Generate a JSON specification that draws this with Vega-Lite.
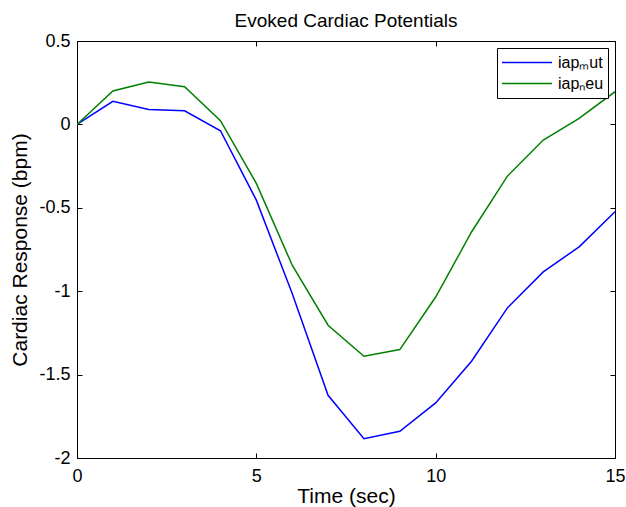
{
  "$schema": "https://vega.github.io/schema/vega-lite/v6.json",
  "width": 538,
  "height": 417,
  "autosize": {"type": "none"},
  "padding": {"left": 77, "top": 41, "right": 11, "bottom": 49},
  "background": "white",
  "config": {
    "font": "Liberation Sans",
    "view": {"stroke": "black", "strokeWidth": 1},
    "axis": {"grid": false, "domain": false, "labelFlush": false, "labelOverlap": false, "tickColor": "black", "labelColor": "black", "titleColor": "black", "labelFont": "Liberation Sans", "titleFont": "Liberation Sans", "titleFontWeight": "normal"}
  },
  "title": {"text": "Evoked Cardiac Potentials", "fontSize": 19, "fontWeight": "normal", "font": "Liberation Sans", "color": "black", "offset": 1, "anchor": "middle"},
  "data": {"values": [
    {"t": 0, "v": 0, "s": "iapₘut"},
    {"t": 1, "v": 0.138, "s": "iapₘut"},
    {"t": 2, "v": 0.09, "s": "iapₘut"},
    {"t": 3, "v": 0.082, "s": "iapₘut"},
    {"t": 4, "v": -0.038, "s": "iapₘut"},
    {"t": 5, "v": -0.454, "s": "iapₘut"},
    {"t": 6, "v": -1.014, "s": "iapₘut"},
    {"t": 7, "v": -1.624, "s": "iapₘut"},
    {"t": 8, "v": -1.884, "s": "iapₘut"},
    {"t": 9, "v": -1.84, "s": "iapₘut"},
    {"t": 10, "v": -1.67, "s": "iapₘut"},
    {"t": 11, "v": -1.42, "s": "iapₘut"},
    {"t": 12, "v": -1.10, "s": "iapₘut"},
    {"t": 13, "v": -0.884, "s": "iapₘut"},
    {"t": 14, "v": -0.734, "s": "iapₘut"},
    {"t": 15, "v": -0.524, "s": "iapₘut"},
    {"t": 0, "v": 0, "s": "iapₙeu"},
    {"t": 1, "v": 0.20, "s": "iapₙeu"},
    {"t": 2, "v": 0.254, "s": "iapₙeu"},
    {"t": 3, "v": 0.226, "s": "iapₙeu"},
    {"t": 4, "v": 0.022, "s": "iapₙeu"},
    {"t": 5, "v": -0.354, "s": "iapₙeu"},
    {"t": 6, "v": -0.844, "s": "iapₙeu"},
    {"t": 7, "v": -1.204, "s": "iapₙeu"},
    {"t": 8, "v": -1.39, "s": "iapₙeu"},
    {"t": 9, "v": -1.35, "s": "iapₙeu"},
    {"t": 10, "v": -1.035, "s": "iapₙeu"},
    {"t": 11, "v": -0.645, "s": "iapₙeu"},
    {"t": 12, "v": -0.31, "s": "iapₙeu"},
    {"t": 13, "v": -0.094, "s": "iapₙeu"},
    {"t": 14, "v": 0.036, "s": "iapₙeu"},
    {"t": 15, "v": 0.196, "s": "iapₙeu"}
  ]},
  "layer": [
    {
      "mark": {"type": "line", "strokeWidth": 1.5, "clip": true},
      "encoding": {
        "x": {"field": "t", "type": "quantitative", "scale": {"domain": [0, 15], "nice": false, "zero": false},
          "axis": {"orient": "bottom", "values": [0, 5, 10, 15], "labelExpr": "'' + datum.value", "tickSize": -5, "labelFontSize": 18, "labelPadding": 14, "title": "Time (sec)", "titleFontSize": 21, "titlePadding": 0}},
        "y": {"field": "v", "type": "quantitative", "scale": {"domain": [-2, 0.5], "nice": false, "zero": false},
          "axis": {"orient": "left", "values": [-2, -1.5, -1, -0.5, 0, 0.5], "labelExpr": "'' + datum.value", "tickSize": -5, "labelFontSize": 18, "labelPadding": 12, "title": "Cardiac Response (bpm)", "titleFontSize": 21, "titlePadding": 8}},
        "color": {"field": "s", "type": "nominal", "sort": ["iapₘut", "iapₙeu"],
          "scale": {"domain": ["iapₘut", "iapₙeu"], "range": ["#0000ff", "#008000"]},
          "legend": {"title": null, "orient": "top-right", "offset": 7, "symbolType": "stroke", "symbolSize": 2500, "clipHeight": 21, "symbolStrokeWidth": 1.5, "labelFontSize": 16, "labelColor": "black", "strokeColor": "black", "fillColor": "white", "padding": 4, "rowPadding": 0, "labelOffset": 5}}
      }
    },
    {
      "mark": {"type": "line", "opacity": 0},
      "encoding": {
        "x": {"field": "t", "type": "quantitative", "scale": {"domain": [0, 15], "nice": false, "zero": false},
          "axis": {"orient": "top", "values": [0, 5, 10, 15], "tickSize": -5, "labels": false, "title": null}},
        "y": {"field": "v", "type": "quantitative", "scale": {"domain": [-2, 0.5], "nice": false, "zero": false},
          "axis": {"orient": "right", "values": [-2, -1.5, -1, -0.5, 0, 0.5], "tickSize": -5, "labels": false, "title": null}}
      }
    }
  ],
  "resolve": {"scale": {"x": "independent", "y": "independent"}, "axis": {"x": "independent", "y": "independent"}}
}
